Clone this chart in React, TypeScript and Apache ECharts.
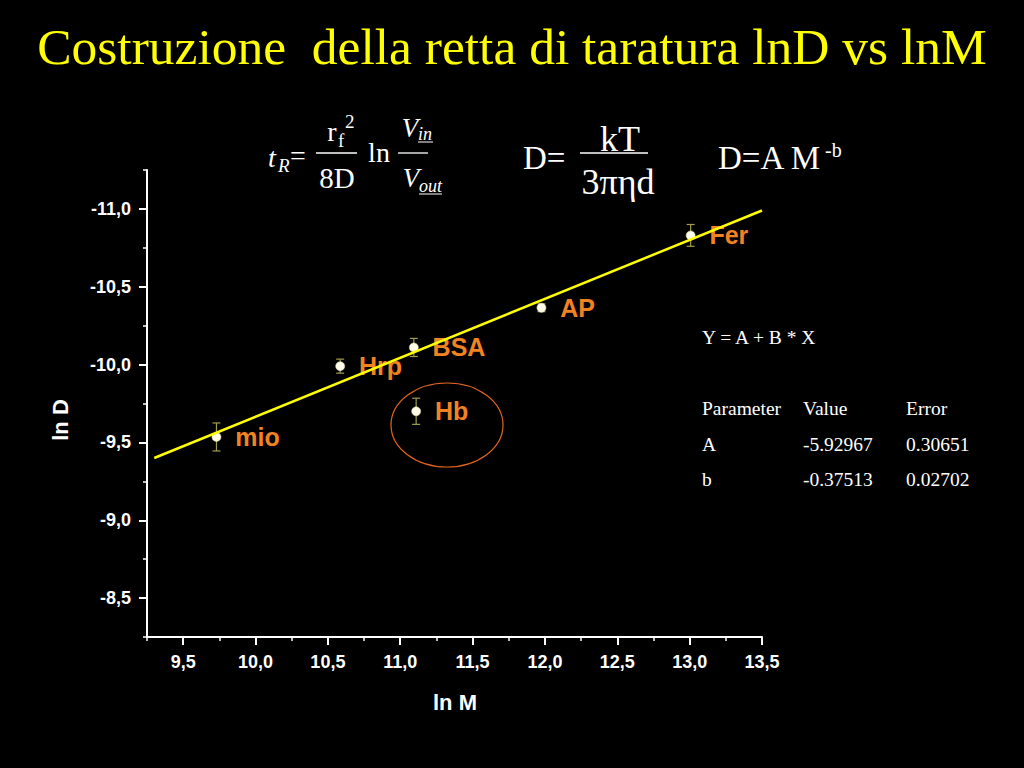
import React, { useEffect, useRef } from "react";
import * as echarts from "echarts";

const proteins = ["mio", "Hrp", "BSA", "Hb", "AP", "Fer"];
const lnM = [9.73, 10.585, 11.094, 11.11, 11.976, 13.007];
const lnD = [-9.535, -9.99, -10.11, -9.7, -10.365, -10.83];
const lnDErr = [0.09, 0.045, 0.058, 0.084, 0.025, 0.07];

const fitX = [9.3, 13.5];
const fitY = [-9.4, -10.99];

const xMajor = [9.5, 10, 10.5, 11, 11.5, 12, 12.5, 13, 13.5];
const yMajor = [-11, -10.5, -10, -9.5, -9, -8.5];

const paramNames = ["A", "b"];
const paramValues = ["-5.92967", "-0.37513"];
const paramErrors = ["0.30651", "0.02702"];

const SANS = "Liberation Sans, Arial, sans-serif";
const SERIF = "Liberation Serif, Times New Roman, serif";

const fmt = (v: number) => v.toFixed(1).replace(".", ",");

function txt(text: string, x: number, y: number, o: any = {}) {
  const align = o.align || "left";
  const style: any = {
    text,
    x: 0,
    y: 0,
    fill: o.fill || "#ffffff",
    fontFamily: o.family || SERIF,
    fontSize: o.size || 27,
    fontStyle: o.italic ? "italic" : "normal",
    fontWeight: o.bold ? "bold" : "normal",
    align,
    textAlign: align,
    verticalAlign: "middle",
    textVerticalAlign: "middle",
  };
  return { type: "text", rotation: o.rotation || 0, x, y, style, z: 100 };
}

function hline(x1: number, x2: number, y: number, w = 1.3) {
  return {
    type: "line",
    shape: { x1, y1: y, x2, y2: y },
    style: { stroke: "#ffffff", lineWidth: w },
    z: 100,
  };
}

export default function App() {
  const ref = useRef<HTMLDivElement>(null);

  useEffect(() => {
    if (!ref.current) return;
    const chart = echarts.init(ref.current, null, { renderer: "svg" });

    const scatterData = proteins.map((p, i) => ({ value: [lnM[i], lnD[i]], name: p }));
    const errData = proteins.map((p, i) => [lnM[i], lnD[i], lnDErr[i]]);
    const fitData = fitX.map((x, i) => [x, fitY[i]]);

    const axisLineStyle = { color: "#ffffff", width: 2 };
    const labelStyle = {
      color: "#ffffff",
      fontFamily: SANS,
      fontWeight: "bold",
      fontSize: 18,
    };

    const tableRows: any[] = [];
    paramNames.forEach((n, i) => {
      const y = 444 + i * 35;
      tableRows.push(txt(n, 702, y, { size: 19.5 }));
      tableRows.push(txt(paramValues[i], 803, y, { size: 19.5 }));
      tableRows.push(txt(paramErrors[i], 906, y, { size: 19.5 }));
    });

    const option: any = {
      backgroundColor: "#000000",
      animation: false,
      grid: { left: 147, right: 262, top: 170, bottom: 131 },
      xAxis: [
        {
          type: "value",
          position: "bottom",
          min: 9.25,
          max: 13.5,
          interval: 0.25,
          axisLine: { show: true, lineStyle: axisLineStyle },
          axisTick: { show: true, length: 4, lineStyle: { color: "#ffffff", width: 1.5 } },
          axisLabel: { show: false },
          splitLine: { show: false },
        },
        {
          type: "value",
          position: "bottom",
          min: 9.25,
          max: 13.5,
          axisLine: { show: false },
          axisTick: {
            show: true,
            customValues: xMajor,
            length: 8,
            lineStyle: { color: "#ffffff", width: 2 },
          },
          axisLabel: {
            show: true,
            customValues: xMajor,
            formatter: (v: number) => fmt(v),
            margin: 16,
            ...labelStyle,
          },
          splitLine: { show: false },
        },
      ],
      yAxis: [
        {
          type: "value",
          position: "left",
          inverse: true,
          min: -11.25,
          max: -8.25,
          interval: 0.25,
          axisLine: { show: true, lineStyle: axisLineStyle },
          axisTick: { show: true, length: 4, lineStyle: { color: "#ffffff", width: 1.5 } },
          axisLabel: { show: false },
          splitLine: { show: false },
        },
        {
          type: "value",
          position: "left",
          inverse: true,
          min: -11.25,
          max: -8.25,
          axisLine: { show: false },
          axisTick: {
            show: true,
            customValues: yMajor,
            length: 8,
            lineStyle: { color: "#ffffff", width: 2 },
          },
          axisLabel: {
            show: true,
            customValues: yMajor,
            formatter: (v: number) => fmt(v),
            margin: 16,
            ...labelStyle,
          },
          splitLine: { show: false },
        },
      ],
      series: [
        {
          type: "custom",
          xAxisIndex: 0,
          yAxisIndex: 0,
          data: errData,
          encode: { x: 0, y: 1 },
          z: 2,
          renderItem: (params: any, api: any) => {
            const x = api.value(0);
            const y = api.value(1);
            const e = api.value(2);
            const top = api.coord([x, y - e]);
            const bot = api.coord([x, y + e]);
            const c = "#a39d4c";
            const hw = 4;
            return {
              type: "group",
              children: [
                { type: "line", shape: { x1: top[0], y1: top[1], x2: bot[0], y2: bot[1] }, style: { stroke: c, lineWidth: 1.2 } },
                { type: "line", shape: { x1: top[0] - hw, y1: top[1], x2: top[0] + hw, y2: top[1] }, style: { stroke: c, lineWidth: 1.2 } },
                { type: "line", shape: { x1: bot[0] - hw, y1: bot[1], x2: bot[0] + hw, y2: bot[1] }, style: { stroke: c, lineWidth: 1.2 } },
              ],
            };
          },
        },
        {
          type: "scatter",
          xAxisIndex: 0,
          yAxisIndex: 0,
          data: scatterData,
          symbol: "circle",
          symbolSize: 9,
          z: 3,
          itemStyle: { color: "#fffbe8", borderColor: "#e8e0b0", borderWidth: 0.5, opacity: 1 },
          label: {
            show: true,
            position: "right",
            distance: 14,
            formatter: (p: any) => p.name,
            color: "#f28322",
            fontFamily: SANS,
            fontWeight: "bold",
            fontSize: 25,
          },
        },
        {
          type: "line",
          xAxisIndex: 0,
          yAxisIndex: 0,
          data: fitData,
          symbol: "none",
          z: 4,
          lineStyle: { color: "#ffff00", width: 2.5 },
        },
      ],
      graphic: [
        txt("Costruzione  della retta di taratura lnD vs lnM", 512, 46, {
          align: "center",
          size: 51.5,
          fill: "#ffff00",
        }),
        // t_R = rf^2/8D ln Vin/Vout
        txt("t", 272, 157, { italic: true, align: "center", size: 28 }),
        txt("R", 278, 165, { italic: true, size: 19 }),
        txt("=", 298, 155, { align: "center", size: 28 }),
        txt("r", 332, 131, { align: "center", size: 28 }),
        txt("f", 338, 140, { size: 19 }),
        txt("2", 345, 121, { size: 19 }),
        hline(316, 357, 153),
        txt("8D", 337, 178, { align: "center", size: 29 }),
        txt("ln", 379, 152, { align: "center", size: 28 }),
        txt("V", 410, 128, { italic: true, align: "center", size: 27 }),
        txt("in", 418, 134, { italic: true, size: 18 }),
        hline(418, 433, 142, 1),
        hline(398, 428, 153),
        txt("V", 411, 178, { italic: true, align: "center", size: 27 }),
        txt("out", 419, 186, { italic: true, size: 18 }),
        hline(419, 442, 194, 1),
        // D = kT / 3πηd
        txt("D=", 523, 158, { size: 33 }),
        txt("kT", 620, 139, { align: "center", size: 36 }),
        hline(580, 648, 153),
        txt("3πηd", 618, 182, { align: "center", size: 36 }),
        // D = A M^-b
        txt("D=A M", 718, 158, { size: 33 }),
        txt("-b", 825, 150, { size: 20 }),
        // fit table
        txt("Y = A + B * X", 702, 337, { size: 19.5 }),
        txt("Parameter", 702, 408, { size: 19.5 }),
        txt("Value", 803, 408, { size: 19.5 }),
        txt("Error", 906, 408, { size: 19.5 }),
        ...tableRows,
        // axis names
        txt("ln D", 60, 420, { family: SANS, bold: true, size: 22, align: "center", rotation: Math.PI / 2 }),
        txt("ln M", 455, 702, { family: SANS, bold: true, size: 22, align: "center" }),
        // highlight ellipse around Hb
        {
          type: "ellipse",
          shape: { cx: 447, cy: 425, rx: 56, ry: 42 },
          style: { fill: "none", stroke: "#e0641e", lineWidth: 1.2 },
          z: 50,
        },
      ],
    };

    chart.setOption(option);
    return () => chart.dispose();
  }, []);

  return (
    <div
      ref={ref}
      style={{ position: "fixed", left: 0, top: 0, width: 1024, height: 768, background: "#000" }}
    />
  );
}
